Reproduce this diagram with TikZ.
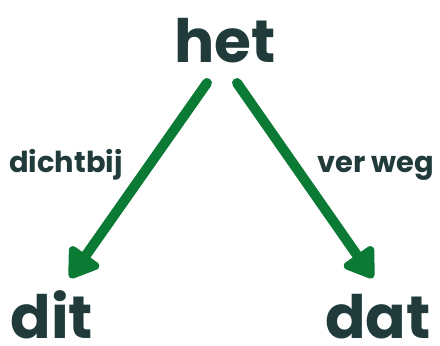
\documentclass[tikz,border=0pt]{standalone}
\usepackage{fontspec}
\setmainfont{Poppins}[UprightFont=* Bold]
\usetikzlibrary{arrows.meta}
\definecolor{ink}{HTML}{213B3B}
\definecolor{arrowgreen}{HTML}{0B7A35}
\begin{document}
\begin{tikzpicture}[x=1bp,y=1bp,
  bigword/.style={text=ink,font=\fontsize{60}{60}\selectfont,inner sep=0pt,anchor=base},
  smallword/.style={text=ink,font=\fontsize{29}{29}\selectfont,inner sep=0pt,anchor=base},
  link/.style={draw=arrowgreen,line width=10bp,line cap=round,
    -{Triangle[length=32bp,width=40bp,round]}}]
\useasboundingbox (0,0) rectangle (440,345);
\node[bigword] (het) at (225,283) {het};
\node[bigword] (dit) at (52,7) {dit};
\node[bigword] (dat) at (378,7) {dat};
\node[smallword] (near) at (66,173) {dichtbij};
\node[smallword] (far) at (376,173) {ver weg};
\coordinate (ls) at (207,262);
\coordinate (le) at (70,67);
\coordinate (rs) at (237,262);
\coordinate (re) at (373,67);
\draw[link] (ls) -- (le);
\draw[link] (rs) -- (re);
\end{tikzpicture}
\end{document}
